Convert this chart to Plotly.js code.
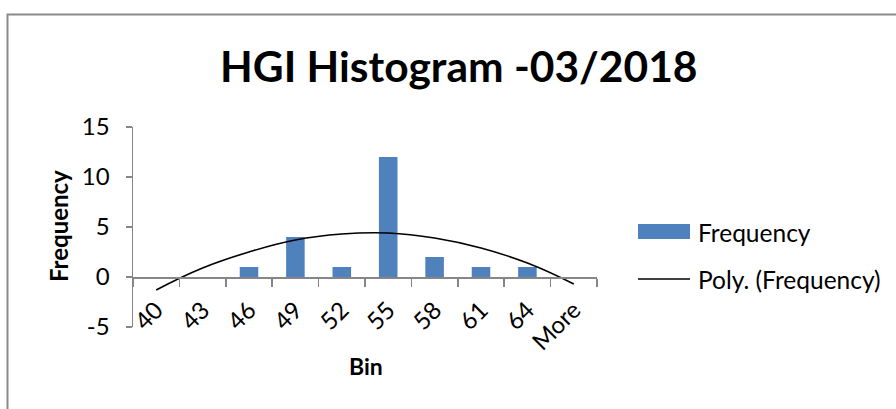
<!DOCTYPE html>
<html>
<head>
<meta charset="utf-8">
<script src="https://cdn.plot.ly/plotly-3.0.1.min.js"></script>
<style>
html,body{margin:0;padding:0;background:#fff;}
#chart{width:896px;height:409px;}
</style>
</head>
<body>
<div id="chart"></div>
<script>
// Data
const bins = ["40", "43", "46", "49", "52", "55", "58", "61", "64", "More"];
const frequency = [0, 0, 1, 4, 1, 12, 2, 1, 1, 0];
// Polynomial (order 2) trendline values read at each bin
const polyTrend = [-1.3, 0.9, 2.5, 3.7, 4.3, 4.4, 3.9, 2.9, 1.4, -0.7];
const yTicks = [-5, 0, 5, 10, 15];
const yTickText = ["-5", "0", "5", "10", "15"];

const FONT = "Lato, 'Open Sans', sans-serif";
const AXIS_GRAY = "#868686";

const traces = [
  {
    type: "bar",
    x: bins,
    y: frequency,
    name: "Frequency",
    marker: {color: "#4F81BD"},
    showlegend: false,
    hoverinfo: "x+y"
  },
  {
    type: "scatter",
    mode: "lines",
    x: bins,
    y: polyTrend,
    name: "Poly. (Frequency)",
    line: {color: "#000000", width: 1.6, shape: "spline", smoothing: 1.3},
    showlegend: false
  }
];

const layout = {
  width: 896,
  height: 409,
  margin: {l: 133, r: 299, t: 127, b: 82},
  paper_bgcolor: "#ffffff",
  plot_bgcolor: "rgba(0,0,0,0)",
  font: {family: FONT, color: "#000000", size: 24},
  bargap: 0.6,
  title: {
    text: "<b>HGI Histogram -03/2018</b>",
    font: {family: FONT, size: 42.5, color: "#000000"},
    xref: "container", x: 0.512, xanchor: "center",
    yref: "container", y: 0.835, yanchor: "middle"
  },
  xaxis: {
    type: "category",
    anchor: "free",
    position: 0.25,
    showline: true,
    linecolor: AXIS_GRAY,
    linewidth: 1.5,
    ticks: "outside",
    tickson: "boundaries",
    ticklen: 8,
    tickcolor: AXIS_GRAY,
    tickwidth: 1.5,
    tickangle: -45,
    ticklabelstandoff: 8,
    tickfont: {family: FONT, size: 24, color: "#000"},
    showgrid: false,
    zeroline: false,
    title: {text: ""}
  },
  yaxis: {
    range: [-5, 15],
    tickvals: yTicks,
    ticktext: yTickText,
    showline: true,
    linecolor: AXIS_GRAY,
    linewidth: 1.5,
    ticks: "outside",
    ticklen: 6,
    tickcolor: AXIS_GRAY,
    tickwidth: 1.5,
    ticklabelstandoff: 11,
    tickfont: {family: FONT, size: 24, color: "#000"},
    showgrid: false,
    zeroline: false,
    title: {text: ""}
  },
  shapes: [
    // chart area border
    {type: "rect", xref: "paper", yref: "paper",
     x0: (7.5 - 133) / 464, x1: (905 - 133) / 464,
     y0: (327 - 420) / 200, y1: (327 - 14.5) / 200,
     line: {color: "#8a8a8a", width: 2}, fillcolor: "rgba(0,0,0,0)", layer: "below"},
    // legend swatch: bar
    {type: "rect", xref: "paper", yref: "paper",
     x0: (638 - 133) / 464, x1: (690 - 133) / 464,
     y0: (327 - 239) / 200, y1: (327 - 224) / 200,
     line: {width: 0}, fillcolor: "#4F81BD"},
    // legend swatch: line
    {type: "line", xref: "paper", yref: "paper",
     x0: (638 - 133) / 464, x1: (690 - 133) / 464,
     y0: (327 - 279) / 200, y1: (327 - 279) / 200,
     line: {color: "#000", width: 1.6}}
  ],
  annotations: [
    {text: "Frequency", xref: "paper", yref: "paper",
     x: (696 - 133) / 464, y: (327 - 232) / 200, xanchor: "left", yanchor: "middle",
     showarrow: false, font: {family: FONT, size: 24.5, color: "#000"}},
    {text: "Poly. (Frequency)", xref: "paper", yref: "paper",
     x: (696 - 133) / 464, y: (327 - 279) / 200, xanchor: "left", yanchor: "middle",
     showarrow: false, font: {family: FONT, size: 24.5, color: "#000"}},
    {text: "<b>Frequency</b>", xref: "paper", yref: "paper",
     x: (58 - 133) / 464, y: (327 - 226) / 200, xanchor: "center", yanchor: "middle",
     textangle: -90, showarrow: false, font: {family: FONT, size: 24, color: "#000"}},
    {text: "<b>Bin</b>", xref: "paper", yref: "paper",
     x: (366 - 133) / 464, y: (327 - 366) / 200, xanchor: "center", yanchor: "middle",
     showarrow: false, font: {family: FONT, size: 23, color: "#000"}}
  ]
};

Plotly.newPlot("chart", traces, layout, {displayModeBar: false, staticPlot: true});
</script>
</body>
</html>
